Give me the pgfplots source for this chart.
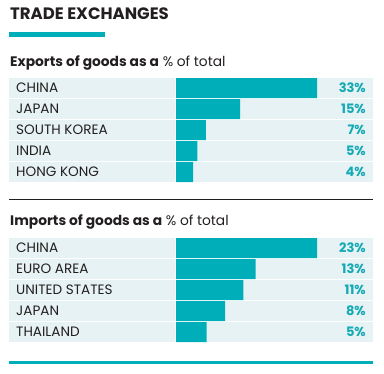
\documentclass[border=0pt]{standalone}
\usepackage{fontspec}
\setmainfont{Poppins}
\usepackage{pgfplots}
\pgfplotsset{compat=1.18}
\definecolor{teal1}{RGB}{0,174,185}
\definecolor{bgrow}{RGB}{230,242,244}
\definecolor{valc}{RGB}{20,170,181}
\definecolor{ink}{RGB}{35,31,32}
\pgfplotstableread{
y val
0 33
1 15
2 7
3 5
4 4
}\exports
\pgfplotstableread{
y val
0 23
1 13
2 11
3 8
4 5
}\imports
\begin{document}
\begin{tikzpicture}
\useasboundingbox (0,0) rectangle (384bp,-374bp);
% title
\node[anchor=base west, inner sep=0, text=ink, font=\fontsize{16.5bp}{18bp}\selectfont\bfseries] at (10bp,-19bp) {TRADE EXCHANGES};
\fill[teal1] (9bp,-32bp) rectangle (105bp,-37bp);
% exports
\node[anchor=base west, inner sep=0, text=ink, font=\fontsize{13.8bp}{15bp}\selectfont] at (10bp,-66bp) {\textbf{Exports of goods as a} \% of total};
\foreach \i in {0,...,4} { \fill[bgrow] (9bp,{-78bp-\i*21bp}) rectangle (373bp,{-98bp-\i*21bp}); }
\begin{axis}[at={(176bp,-182.5bp)}, anchor=south west, scale only axis,
  width=197bp, height=105bp, xmin=0, xmax=46.106, ymin=-0.5, ymax=4.5,
  y dir=reverse, hide axis, xbar, bar width=20bp, clip=false]
\addplot[fill=teal1, draw=none] table[x=val, y=y] {\exports};
\end{axis}
\draw[white, line width=0.8bp] (175.5bp,-78bp) -- (175.5bp,-182bp);
\foreach \lab [count=\i from 0] in {CHINA,JAPAN,SOUTH KOREA,INDIA,HONG KONG} {
  \node[anchor=base west, inner sep=0, text=ink, font=\fontsize{13.6bp}{15bp}\selectfont] at (16bp,{-92.8bp-\i*21bp}) {\lab};
}
\foreach \v [count=\i from 0] in {33,15,7,5,4} {
  \node[anchor=base east, inner sep=0, text=valc, font=\fontsize{13bp}{15bp}\selectfont\bfseries] at (366bp,{-92.8bp-\i*21bp}) {\v\%};
}
\draw[ink, line width=1bp] (9bp,-199.5bp) -- (373bp,-199.5bp);
% imports
\node[anchor=base west, inner sep=0, text=ink, font=\fontsize{13.8bp}{15bp}\selectfont] at (10bp,-225bp) {\textbf{Imports of goods as a} \% of total};
\foreach \i in {0,...,4} { \fill[bgrow] (9bp,{-238bp-\i*21bp}) rectangle (373bp,{-258bp-\i*21bp}); }
\begin{axis}[at={(176bp,-342.5bp)}, anchor=south west, scale only axis,
  width=197bp, height=105bp, xmin=0, xmax=32.135, ymin=-0.5, ymax=4.5,
  y dir=reverse, hide axis, xbar, bar width=20bp, clip=false]
\addplot[fill=teal1, draw=none] table[x=val, y=y] {\imports};
\end{axis}
\draw[white, line width=0.8bp] (175.5bp,-238bp) -- (175.5bp,-342bp);
\foreach \lab [count=\i from 0] in {CHINA,EURO AREA,UNITED STATES,JAPAN,THAILAND} {
  \node[anchor=base west, inner sep=0, text=ink, font=\fontsize{13.6bp}{15bp}\selectfont] at (16bp,{-252.8bp-\i*21bp}) {\lab};
}
\foreach \v [count=\i from 0] in {23,13,11,8,5} {
  \node[anchor=base east, inner sep=0, text=valc, font=\fontsize{13bp}{15bp}\selectfont\bfseries] at (366bp,{-252.8bp-\i*21bp}) {\v\%};
}
\fill[teal1] (9bp,-361bp) rectangle (373bp,-364bp);
\end{tikzpicture}
\end{document}
